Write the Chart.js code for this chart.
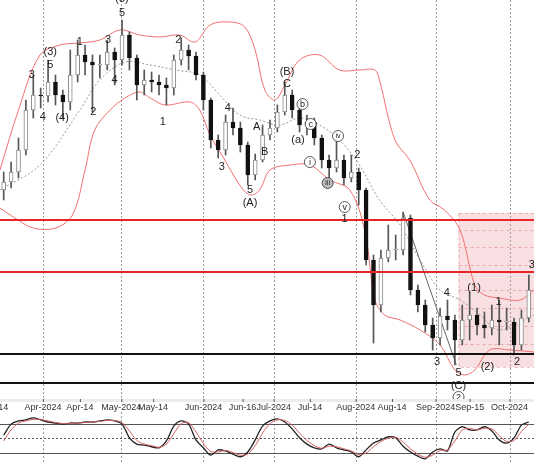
<!DOCTYPE html>
<html>
<head>
<meta charset="utf-8">
<script src="https://cdn.jsdelivr.net/npm/chart.js@4.4.1/dist/chart.umd.min.js"></script>
<style>
  body { margin: 0; background: #fff; }
  #main { position: absolute; left: 0; top: 0; }
  #osc { position: absolute; left: 0; top: 412px; }
</style>
</head>
<body>
<canvas id="main" width="534" height="412"></canvas>
<canvas id="osc" width="534" height="50"></canvas>
<script>
// candles (2 trading days per bar), price units
const closes = [218,228,250,290,305,304,318,305,298,325,345,338,335,335,348,340,365,342,315,320,318,315,312,340,350,344,325,300,260,250,278,272,255,225,240,265,272,288,305,290,275,278,262,240,232,240,222,228,210,140,95,142,150,150,182,110,95,75,62,84,80,60,80,85,75,72,80,78,78,55,82,110];
const opens = [210,218,228,250,290,305,304,318,305,298,325,345,338,335,335,348,340,365,342,315,320,318,315,312,340,350,344,325,300,260,250,278,272,255,225,240,265,272,288,305,290,275,278,262,240,232,240,222,228,210,140,95,142,150,150,182,110,95,75,62,84,80,60,80,85,75,72,80,78,78,55,82];
const highs = [228,238,262,300,325,312,340,325,310,350,360,355,345,345,360,352,380,368,345,330,328,325,322,345,362,355,348,328,302,265,285,292,278,258,246,275,280,295,318,310,295,285,282,265,245,262,245,245,232,212,145,150,175,165,188,185,115,100,82,92,100,85,95,108,92,88,95,100,92,82,90,125];
const lows = [200,212,222,245,282,292,298,295,282,290,318,325,288,322,330,315,335,330,300,305,308,305,295,305,335,330,320,290,252,242,245,265,248,215,220,238,260,268,285,282,268,265,255,232,222,228,215,218,195,135,57,88,138,140,145,105,88,68,50,55,70,35,55,60,65,62,65,55,70,45,50,78];

// bollinger bands [barIndex, price]
const bandUpper = [[-0.5,230],[2,290],[4.9,345],[7.6,355],[10.3,357],[13,360],[15.7,370],[18.4,365],[21.1,363],[23.8,365],[25.9,358],[27.9,375],[30.6,378],[32.6,373],[34,350],[35.3,310],[36.7,300],[38,315],[40,340],[42.7,345],[45.4,330],[48.1,330],[50.2,330],[50.8,320],[52.9,260],[54.9,240],[57.6,200],[59.6,190],[61.7,170],[63.7,115],[65,105],[67,102],[69.8,100],[71.7,110]];
const bandLower = [[-0.5,192],[1.5,182],[4,172],[7,172],[9.3,185],[11,230],[12.3,270],[14.4,290],[16.4,302],[18.4,308],[19.8,302],[21.8,295],[25.2,298],[26.5,290],[27.9,265],[29.9,240],[31.9,215],[33.3,205],[34.6,210],[36,230],[38.7,235],[41.4,235],[44.1,220],[46.8,210],[48.8,170],[50.2,100],[51.5,85],[53.6,80],[56.3,70],[59,55],[61,30],[62.3,25],[63.7,30],[65.7,50],[68.4,50],[71.7,48]];
const bandMid = [[-0.5,210],[4.9,235],[10.3,290],[13,320],[16.4,338],[19.8,335],[23.2,330],[26.5,325],[29.2,305],[31.9,285],[34.6,280],[37.3,275],[40,282],[42.7,275],[45.4,260],[48.1,235],[50.8,200],[53.6,175],[56.3,140],[59,110],[61.7,100],[64.4,85],[67,70],[71.7,85]];

const trendLine = [[54,188],[61.2,35]];
const redLevels = [180, 128];
const blackLevels = [46, 17];
const boxRange = { x0: 61.5, x1: 72.5, top: 187, bottom: 33 };
const boxLines = [170, 153, 135, 110, 92, 74, 56];

const tickLabels = ['Mar-14','Apr-2024','Apr-14','May-2024','May-14','Jun-2024','Jun-16','Jul-2024','Jul-14','Aug-2024','Aug-14','Sep-2024','Sep-15','Oct-2024'];
const tickPos = [-1.3,5.3,10.3,15.9,20.2,27,32.3,36.5,41.4,47.6,52.5,58.4,63,68.4];
const monthStarts = [5.3,15.9,27,36.5,47.6,58.4,68.4];

const waveLabels = [
  [16,401,'(3)'],[16,387,'5'],[6.3,348,'(3)'],[6.3,335,'5'],[3.8,325,'3'],[5.3,283,'4'],[7.9,282,'(4)'],
  [10.3,358,'1'],[12.1,288,'2'],[14.1,360,'3'],[15,320,'4'],[23.6,360,'2'],[21.5,278,'1'],
  [30.3,292,'4'],[29.5,233,'3'],[34.2,273,'A'],[35.3,248,'B'],[33.3,210,'5'],[33.3,197,'(A)'],
  [38.3,328,'(B)'],[38.3,316,'C'],[39.8,260,'(a)'],[46.1,181,'1'],[47.8,245,'2'],
  [59.9,107,'4'],[63.6,112,'(1)'],[66.9,98,'1'],[71.4,135,'3'],[58.6,38,'3'],[61.5,27,'5'],
  [61.5,14,'(C)'],[65.4,33,'(2)'],[69.4,38,'2']
];
const circledLabels = [[40.4,296,'b'],[41.5,276,'c'],[41.4,238,'i'],[45.2,264,'iv'],[43.8,217,'iii'],[46.1,193,'v'],[61.5,3,'2']];

// oscillator
const oscFast = [56,77,83,85,89,85,81,79,77,79,79,81,81,83,85,83,77,51,39,37,34,32,45,73,83,77,47,32,18,28,26,20,15,24,47,73,83,87,81,68,51,39,32,30,39,32,28,24,15,28,41,47,53,51,35,24,16,11,24,30,26,62,72,66,66,72,64,47,41,51,75,81];
const oscSlow = [45,66,79,83,86,86,83,80,78,78,79,80,81,82,84,84,80,64,46,39,36,33,39,59,78,80,62,40,25,24,27,23,18,20,36,60,78,85,84,75,60,46,36,31,35,34,30,26,19,22,34,44,50,52,43,30,20,14,18,27,28,45,66,69,66,69,68,55,44,46,63,77];
const oscLevels = [78, 50, 22];

const xs = closes.map((_, i) => i);
const sans = '"Liberation Sans", Arial, sans-serif';

function vline(ctx, area, x) {
  ctx.save();
  ctx.strokeStyle = '#9a9a9a';
  ctx.lineWidth = 1;
  ctx.setLineDash([2, 2]);
  ctx.beginPath();
  ctx.moveTo(Math.round(x) + 0.5, area.top);
  ctx.lineTo(Math.round(x) + 0.5, area.bottom);
  ctx.stroke();
  ctx.restore();
}

const backdrop = {
  id: 'backdrop',
  beforeDatasetsDraw(chart) {
    const { ctx, chartArea, scales: { x, y } } = chart;
    monthStarts.forEach(m => vline(ctx, chartArea, x.getPixelForValue(m)));
    const bx0 = x.getPixelForValue(boxRange.x0), bx1 = x.getPixelForValue(boxRange.x1);
    const by0 = y.getPixelForValue(boxRange.top), by1 = y.getPixelForValue(boxRange.bottom);
    ctx.save();
    ctx.fillStyle = 'rgba(232,150,155,0.3)';
    ctx.fillRect(bx0, by0, bx1 - bx0, by1 - by0);
    ctx.strokeStyle = 'rgba(220,120,125,0.5)';
    ctx.setLineDash([3, 3]);
    ctx.strokeRect(bx0 + 0.5, by0 + 0.5, bx1 - bx0, by1 - by0);
    boxLines.forEach(v => {
      const py = Math.round(y.getPixelForValue(v)) + 0.5;
      ctx.beginPath(); ctx.moveTo(bx0, py); ctx.lineTo(bx1, py); ctx.stroke();
    });
    ctx.restore();
  },
  afterDatasetsDraw(chart) {
    const { ctx, chartArea, scales: { x, y } } = chart;
    ctx.save();
    const level = (v, c) => {
      const py = Math.round(y.getPixelForValue(v));
      ctx.strokeStyle = c; ctx.lineWidth = 2;
      ctx.beginPath(); ctx.moveTo(0, py); ctx.lineTo(chart.width, py); ctx.stroke();
    };
    redLevels.forEach(v => level(v, '#e8262a'));
    blackLevels.forEach(v => level(v, '#111'));
    ctx.fillStyle = '#222';
    ctx.font = '11px ' + sans;
    ctx.textAlign = 'center';
    ctx.textBaseline = 'middle';
    waveLabels.forEach(([i, p, t]) => ctx.fillText(t, x.getPixelForValue(i), y.getPixelForValue(p)));
    circledLabels.forEach(([i, p, t]) => {
      const px = x.getPixelForValue(i), py = y.getPixelForValue(p);
      ctx.beginPath();
      ctx.arc(px, py, 5.5, 0, Math.PI * 2);
      ctx.fillStyle = t === 'iii' ? '#bbb' : '#fff';
      ctx.fill();
      ctx.strokeStyle = '#333'; ctx.lineWidth = 0.8; ctx.stroke();
      ctx.fillStyle = '#222';
      ctx.font = (t.length > 1 ? '7px ' : '9px ') + sans;
      ctx.fillText(t, px, py + 0.5);
    });
    const sTop = chartArea.bottom + 9;
    ctx.fillStyle = '#ececec';
    ctx.fillRect(0, sTop - 2, chart.width, 3);
    ctx.fillStyle = '#fff';
    ctx.fillRect(0, sTop + 1, chart.width, 11);
    ctx.strokeStyle = '#555'; ctx.lineWidth = 1;
    ctx.beginPath(); ctx.moveTo(0, sTop + 11.5); ctx.lineTo(chart.width, sTop + 11.5); ctx.stroke();
    ctx.font = '9px ' + sans;
    ctx.fillStyle = '#333';
    tickLabels.forEach((t, k) => {
      const px = x.getPixelForValue(tickPos[k]);
      ctx.fillText(t, px, sTop + 6.5);
      ctx.beginPath(); ctx.moveTo(px + 0.5, sTop - 2); ctx.lineTo(px + 0.5, sTop + 1); ctx.stroke();
    });
    ctx.restore();
    monthStarts.forEach(m => vline(ctx, { top: chartArea.bottom, bottom: sTop - 2 }, x.getPixelForValue(m)));
  }
};

const bandStyle = { type: 'line', borderColor: '#f07070', borderWidth: 1, pointRadius: 0, tension: 0.35, order: 5 };

new Chart(document.getElementById('main'), {
  type: 'bar',
  data: {
    datasets: [
      Object.assign({ data: bandUpper.map(([a, b]) => ({ x: a, y: b })) }, bandStyle),
      Object.assign({ data: bandLower.map(([a, b]) => ({ x: a, y: b })) }, bandStyle),
      { type: 'line', data: bandMid.map(([a, b]) => ({ x: a, y: b })), borderColor: '#999', borderWidth: 1, borderDash: [2, 2], pointRadius: 0, tension: 0.35, order: 5 },
      { type: 'line', data: trendLine.map(([a, b]) => ({ x: a, y: b })), borderColor: '#666', borderWidth: 1, pointRadius: 0, order: 4 },
      { data: xs.map(i => ({ x: i, y: [lows[i], highs[i]] })), backgroundColor: '#555', barThickness: 1, grouped: false, order: 3 },
      {
        data: xs.map(i => ({ x: i, y: [opens[i], closes[i] === opens[i] ? closes[i] + 1 : closes[i]] })),
        backgroundColor: xs.map(i => closes[i] >= opens[i] ? '#fff' : '#111'),
        borderColor: xs.map(i => closes[i] >= opens[i] ? '#888' : '#111'),
        borderWidth: 1, borderSkipped: false, barThickness: 4, grouped: false, order: 2
      }
    ]
  },
  options: {
    responsive: false, animation: false,
    layout: { padding: { bottom: 20 } },
    plugins: { legend: { display: false }, tooltip: { enabled: false } },
    scales: {
      x: { type: 'linear', min: -0.5, max: 71.7, offset: false, display: false },
      y: { min: 8, max: 400, display: false }
    }
  },
  plugins: [backdrop]
});

const oscBack = {
  id: 'oscBack',
  beforeDatasetsDraw(chart) {
    const { ctx, chartArea, scales: { x, y } } = chart;
    monthStarts.forEach(m => vline(ctx, chartArea, x.getPixelForValue(m)));
    ctx.save();
    oscLevels.forEach((v, k) => {
      const py = Math.round(y.getPixelForValue(v)) + 0.5;
      ctx.strokeStyle = '#555'; ctx.lineWidth = 1;
      ctx.setLineDash(k === 1 ? [2, 2] : []);
      ctx.beginPath(); ctx.moveTo(0, py); ctx.lineTo(chart.width, py); ctx.stroke();
    });
    ctx.restore();
  }
};

new Chart(document.getElementById('osc'), {
  type: 'line',
  data: {
    datasets: [
      { data: xs.map(i => ({ x: i, y: oscSlow[i] })), borderColor: '#d46060', borderWidth: 1, pointRadius: 0, tension: 0.3 },
      { data: xs.map(i => ({ x: i, y: oscFast[i] })), borderColor: '#222', borderWidth: 1.3, pointRadius: 0, tension: 0.3 }
    ]
  },
  options: {
    responsive: false, animation: false,
    plugins: { legend: { display: false }, tooltip: { enabled: false } },
    scales: {
      x: { type: 'linear', min: -0.5, max: 71.7, offset: false, display: false },
      y: { min: 5, max: 100, display: false }
    }
  },
  plugins: [oscBack]
});
</script>
</body>
</html>
